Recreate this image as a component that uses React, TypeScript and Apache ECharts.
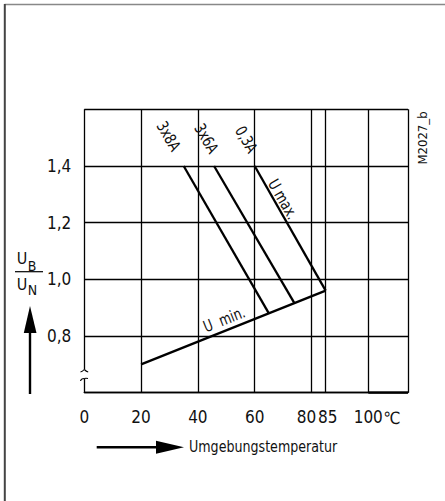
import React, { useEffect, useRef } from "react";
import * as echarts from "echarts";

const FONT = '"DejaVu Sans Condensed", "Liberation Sans", sans-serif';

const xTickValues = [0, 20, 40, 60, 80, 85, 100, 114];
const xLabelValues = [0, 20, 40, 60, 80, 85, 100];
const yLabelValues = [0.8, 1.0, 1.2, 1.4];

const line3x8A = [[35, 1.4], [65, 0.88]];
const line3x6A = [[45.7, 1.4], [74, 0.916]];
const lineUmax = [[60, 1.4], [85, 0.96]];
const lineUmin = [[20, 0.7], [85, 0.96]];

const seriesNames = ["3x8A", "3x6A", "0,3A", "U min."];

export default function App() {
  const ref = useRef<HTMLDivElement>(null);
  useEffect(() => {
    if (!ref.current) return;
    const chart = echarts.init(ref.current, undefined, { renderer: "svg" });
    const lineSeries = (name: string, data: number[][]) => ({
      name,
      type: "line",
      data,
      symbol: "none",
      silent: true,
      lineStyle: { color: "#000", width: 2.3 },
      z: 5,
    });
    const txt = (text: string, x: number, y: number, size: number, rotation = 0, extra: any = {}, sx = 1) => ({
      type: "text",
      x,
      y,
      rotation,
      scaleX: sx,
      z: 100,
      style: {
        text,
        fontSize: size,
        fontFamily: FONT,
        fill: "#111",
        align: "center",
        verticalAlign: "middle",
        ...extra,
      },
    });
    const ln = (x1: number, y1: number, x2: number, y2: number, w: number, color = "#000") => ({
      type: "line",
      z: 100,
      shape: { x1, y1, x2, y2 },
      style: { stroke: color, lineWidth: w },
    });
    const curl = (x1: number, y1: number, cx: number, cy: number, x2: number, y2: number) => ({
      type: "bezierCurve",
      z: 100,
      shape: { x1, y1, x2, y2, cpx1: cx, cpy1: cy },
      style: { stroke: "#000", lineWidth: 1.1, fill: "none" },
    });
    chart.setOption({
      animation: false,
      backgroundColor: "#fff",
      grid: { left: 84.3, top: 109.3, right: 37, bottom: 108.3, containLabel: false },
      xAxis: {
        type: "value",
        min: 0,
        max: 114,
        axisLine: { show: true, onZero: false, lineStyle: { color: "#000", width: 1.4 } },
        axisTick: { show: false, customValues: xTickValues },
        splitLine: { show: true, lineStyle: { color: "#000", width: 1.3 } },
        axisLabel: {
          customValues: xLabelValues,
          margin: 16,
          fontSize: 17,
          fontFamily: FONT,
          color: "#111",
          formatter: (v: number) => (v === 80 ? "{a|80}" : v === 85 ? "{b|85}" : String(v)),
          rich: {
            a: { fontSize: 17, fontFamily: FONT, color: "#111", padding: [0, 10, 0, 0] },
            b: { fontSize: 17, fontFamily: FONT, color: "#111", padding: [0, 0, 0, 4] },
          },
        },
      },
      yAxis: {
        type: "value",
        min: 0.6,
        max: 1.6,
        interval: 0.2,
        axisLine: { show: false },
        axisTick: { show: false },
        splitLine: { show: true, lineStyle: { color: "#000", width: 1.3 } },
        axisLabel: {
          customValues: yLabelValues,
          margin: 13,
          fontSize: 17,
          fontFamily: FONT,
          color: "#111",
          formatter: (v: number) => v.toFixed(1).replace(".", ","),
        },
      },
      series: [
        lineSeries(seriesNames[0], line3x8A),
        lineSeries(seriesNames[1], line3x6A),
        lineSeries(seriesNames[2], lineUmax),
        lineSeries(seriesNames[3], lineUmin),
      ],
      graphic: [
        // outer frame
        ln(4.5, 4.5, 445, 4.5, 1.5, "#888"),
        ln(4.8, 4, 4.8, 501, 2, "#444"),
        // thicker bottom segment
        ln(368.3, 392.7, 408, 392.7, 2.2),
        // axis break
        { type: "rect", z: 99, shape: { x: 82, y: 369.5, width: 5, height: 9 }, style: { fill: "#fff" } },
        curl(80.5, 372, 82.5, 371.5, 84.3, 369.5),
        curl(84.3, 369.5, 86.2, 371.5, 88.2, 372),
        curl(80.5, 381, 81, 378.5, 84.3, 378.5),
        curl(84.3, 378.5, 86, 378, 88, 378.5),
        // curve labels
        txt("3x8A", 169, 136, 16, -Math.PI / 3, {}, 0.85),
        txt("3x6A", 206.7, 138.3, 16, -Math.PI / 3, {}, 0.85),
        txt("0,3A", 246.7, 139.3, 16, -Math.PI / 3, {}, 0.85),
        txt("U max.", 283.3, 199, 16, -1.05, {}, 0.85),
        txt("U  min.", 224, 319, 16, 0.379, {}, 0.85),
        txt("M2027_b", 422, 138, 13, Math.PI / 2),
        // units
        txt("℃", 392, 417.5, 17),
        // y title
        txt("U", 22, 258, 16),
        txt("B", 32, 266, 14),
        ln(15, 271.7, 43, 271.7, 1.2),
        txt("U", 22, 284.5, 16),
        txt("N", 32.5, 290, 14),
        // y arrow
        ln(30, 394, 30, 330, 2.4),
        { type: "polygon", z: 100, shape: { points: [[30, 306], [23.8, 333], [36.5, 333]] }, style: { fill: "#000" } },
        // x arrow
        ln(96.7, 447.3, 158, 447.3, 2.4),
        { type: "polygon", z: 100, shape: { points: [[184, 447.3], [156, 440.8], [156, 453.8]] }, style: { fill: "#000" } },
        txt("Umgebungstemperatur", 189, 447, 16, 0, { align: "left" }, 0.88),
      ],
    });
    return () => chart.dispose();
  }, []);
  return <div ref={ref} style={{ position: "fixed", left: 0, top: 0, width: 445, height: 501 }} />;
}
